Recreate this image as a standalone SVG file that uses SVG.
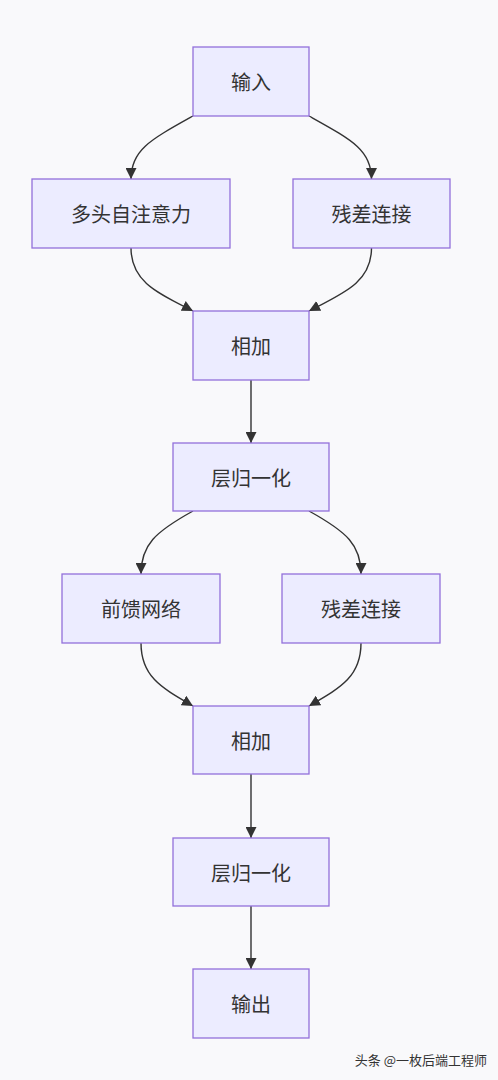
<svg xmlns="http://www.w3.org/2000/svg" width="498" height="1080" viewBox="0 0 498 1080">
<defs>
<marker id="arrow" viewBox="0 0 10 10" refX="10" refY="5" markerWidth="11" markerHeight="11" markerUnits="userSpaceOnUse" orient="auto">
<path d="M0,0 L10,5 L0,10 z" fill="#333333"/>
</marker>
</defs>
<style>
.node rect{fill:#ECECFF;stroke:#9370DB;stroke-width:1.3}
.node text{font-family:"Noto Sans CJK SC","Noto Sans",sans-serif;font-size:20px;fill:#333333;text-anchor:middle;dominant-baseline:central}
.edges path{fill:none;stroke:#333333;stroke-width:1.4;marker-end:url(#arrow)}
.wm{font-family:"Noto Sans CJK SC","Noto Sans",sans-serif;font-size:13px;fill:#333333;text-anchor:end}
</style>
<rect x="0" y="0" width="498" height="1080" fill="#F9F9FB"/>
<g class="edges">
<path d="M193,116 C150,140 131,150 131,179"/>
<path d="M309,116 C352,140 371.5,150 371.5,179"/>
<path d="M131,248 C131,282 158,293 193,311"/>
<path d="M371.5,248 C371.5,282 344,293 309,311"/>
<path d="M251,380 L251,443"/>
<path d="M193,511 C155,532 141,545 141,574"/>
<path d="M309,511 C347,532 361,545 361,574"/>
<path d="M141,643 C141,677 162,688 193,706"/>
<path d="M361,643 C361,677 340,688 309,706"/>
<path d="M251,774 L251,838"/>
<path d="M251,906 L251,969"/>
</g>
<g id="n_input" class="node"><rect x="193" y="47" width="116" height="69"/><text x="251" y="81.5">输入</text></g>
<g id="n_mha" class="node"><rect x="32" y="179" width="198" height="69"/><text x="131" y="213.5">多头自注意力</text></g>
<g id="n_res1" class="node"><rect x="293" y="179" width="157" height="69"/><text x="371.5" y="213.5">残差连接</text></g>
<g id="n_add1" class="node"><rect x="193" y="311" width="116" height="69"/><text x="251" y="345.5">相加</text></g>
<g id="n_ln1" class="node"><rect x="173" y="443" width="156" height="68"/><text x="251" y="477">层归一化</text></g>
<g id="n_ffn" class="node"><rect x="62" y="574" width="158" height="69"/><text x="141" y="608.5">前馈网络</text></g>
<g id="n_res2" class="node"><rect x="282" y="574" width="158" height="69"/><text x="361" y="608.5">残差连接</text></g>
<g id="n_add2" class="node"><rect x="193" y="706" width="116" height="68"/><text x="251" y="740">相加</text></g>
<g id="n_ln2" class="node"><rect x="173" y="838" width="156" height="68"/><text x="251" y="872">层归一化</text></g>
<g id="n_output" class="node"><rect x="193" y="969" width="116" height="69"/><text x="251" y="1003.5">输出</text></g>
<text class="wm" x="487" y="1065">头条 @一枚后端工程师</text>
</svg>
